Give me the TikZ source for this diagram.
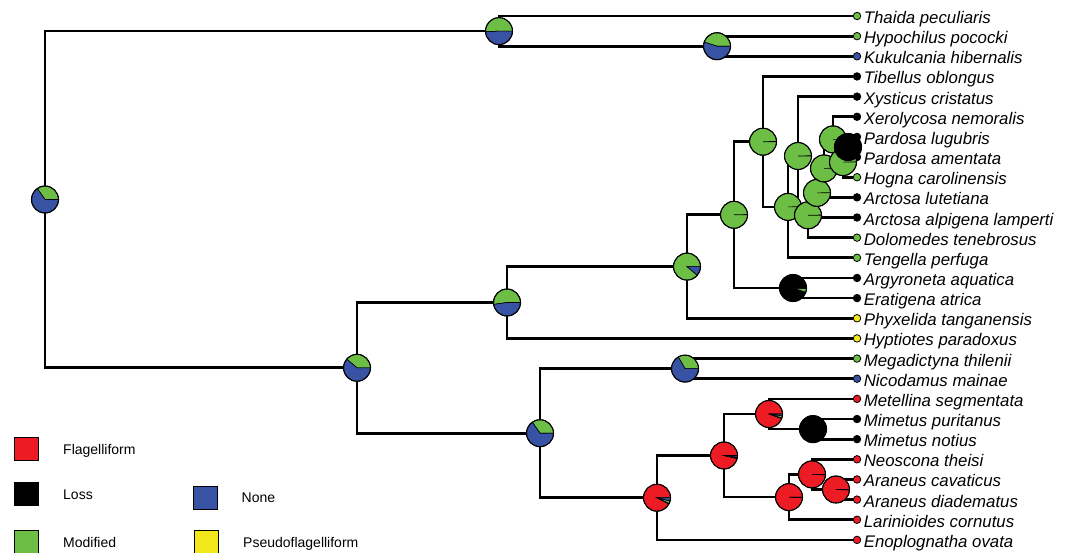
\documentclass[tikz,border=0pt]{standalone}
\usepackage{fontspec}
\setmainfont{Liberation Sans}
\usetikzlibrary{positioning}
\definecolor{stateflag}{RGB}{237,28,36}
\definecolor{stateloss}{RGB}{0,0,0}
\definecolor{statemod}{RGB}{108,190,69}
\definecolor{statenone}{RGB}{57,83,164}
\definecolor{statepseudo}{RGB}{242,232,26}
\newcommand{\pierad}{13.5pt}
\newcommand{\drawpie}[2]{%
  \foreach \pcol/\pend [remember=\pend as \pbeg (initially 0)] in {#2}{%
    \filldraw[fill=\pcol, draw=black, line width=0.6pt] (#1) -- ++(\pbeg:\pierad)
      arc[start angle=\pbeg, end angle=\pend, radius=\pierad] -- cycle;
  }%
  \draw[line width=1.1pt] (#1) circle[radius=\pierad];
}

\begin{document}
\begin{tikzpicture}[
	x=1pt, y=-1pt,
	treeline/.style = {draw=black, line width=2.7pt},
	tipdot/.style = {circle, draw=black, line width=0.8pt, minimum size=7.5pt, inner sep=0pt},
	tiplabel/.style = {font=\fontsize{16.8}{18}\selectfont\itshape, inner sep=0pt, text height=15pt, text depth=0pt, label distance=2.5pt},
	legendbox/.style = {draw=black, line width=1pt, minimum width=24pt, minimum height=23pt, inner sep=0pt},
	legendtext/.style = {font=\fontsize{14}{16}\selectfont, anchor=west, inner sep=0pt, text height=10pt, text depth=0pt}
]
	\useasboundingbox (0,0) rectangle (1073,552);

	% tips
	\node[tipdot, fill=statemod, label={[tiplabel]right:Thaida peculiaris}] (thaida) at (857,16.0) {};
	\node[tipdot, fill=statemod, label={[tiplabel]right:Hypochilus pococki}] (hypochilus) at (857,36.15) {};
	\node[tipdot, fill=statenone, label={[tiplabel]right:Kukulcania hibernalis}] (kukulcania) at (857,56.3) {};
	\node[tipdot, fill=stateloss, label={[tiplabel]right:Tibellus oblongus}] (tibellus) at (857,76.45) {};
	\node[tipdot, fill=stateloss, label={[tiplabel]right:Xysticus cristatus}] (xysticus) at (857,96.6) {};
	\node[tipdot, fill=stateloss, label={[tiplabel]right:Xerolycosa nemoralis}] (xerolycosa) at (857,116.75) {};
	\node[tipdot, fill=stateloss, label={[tiplabel]right:Pardosa lugubris}] (lugubris) at (857,136.9) {};
	\node[tipdot, fill=stateloss, label={[tiplabel]right:Pardosa amentata}] (amentata) at (857,157.05) {};
	\node[tipdot, fill=statemod, label={[tiplabel]right:Hogna carolinensis}] (hogna) at (857,177.2) {};
	\node[tipdot, fill=stateloss, label={[tiplabel]right:Arctosa lutetiana}] (lutetiana) at (857,197.35) {};
	\node[tipdot, fill=stateloss, label={[tiplabel]right:Arctosa alpigena lamperti}] (alpigena) at (857,217.5) {};
	\node[tipdot, fill=statemod, label={[tiplabel]right:Dolomedes tenebrosus}] (dolomedes) at (857,237.65) {};
	\node[tipdot, fill=statemod, label={[tiplabel]right:Tengella perfuga}] (tengella) at (857,257.8) {};
	\node[tipdot, fill=stateloss, label={[tiplabel]right:Argyroneta aquatica}] (argyroneta) at (857,277.95) {};
	\node[tipdot, fill=stateloss, label={[tiplabel]right:Eratigena atrica}] (eratigena) at (857,298.1) {};
	\node[tipdot, fill=statepseudo, label={[tiplabel]right:Phyxelida tanganensis}] (phyxelida) at (857,318.25) {};
	\node[tipdot, fill=statepseudo, label={[tiplabel]right:Hyptiotes paradoxus}] (hyptiotes) at (857,338.4) {};
	\node[tipdot, fill=statemod, label={[tiplabel]right:Megadictyna thilenii}] (megadictyna) at (857,358.55) {};
	\node[tipdot, fill=statenone, label={[tiplabel]right:Nicodamus mainae}] (nicodamus) at (857,378.7) {};
	\node[tipdot, fill=stateflag, label={[tiplabel]right:Metellina segmentata}] (metellina) at (857,398.85) {};
	\node[tipdot, fill=stateloss, label={[tiplabel]right:Mimetus puritanus}] (puritanus) at (857,419.0) {};
	\node[tipdot, fill=stateloss, label={[tiplabel]right:Mimetus notius}] (notius) at (857,439.15) {};
	\node[tipdot, fill=stateflag, label={[tiplabel]right:Neoscona theisi}] (neoscona) at (857,459.3) {};
	\node[tipdot, fill=stateflag, label={[tiplabel]right:Araneus cavaticus}] (cavaticus) at (857,479.45) {};
	\node[tipdot, fill=stateflag, label={[tiplabel]right:Araneus diadematus}] (diadematus) at (857,499.6) {};
	\node[tipdot, fill=stateflag, label={[tiplabel]right:Larinioides cornutus}] (larinioides) at (857,519.75) {};
	\node[tipdot, fill=stateflag, label={[tiplabel]right:Enoplognatha ovata}] (enoplognatha) at (857,539.9) {};

	% internal nodes
	\coordinate (root) at (45,199.5);
	\coordinate (paleo) at (499,31.1);
	\coordinate (hypkuk) at (717,46.2);
	\coordinate (entel) at (357,367.8);
	\coordinate (rtaout) at (507,302.5);
	\coordinate (rtamid) at (687,266.6);
	\coordinate (rtain) at (734,214.8);
	\coordinate (dionycha) at (763,141.7);
	\coordinate (argera) at (793,288.0);
	\coordinate (lycoa) at (788,206.9);
	\coordinate (lycob) at (798,156.0);
	\coordinate (lycoc) at (808,215.3);
	\coordinate (lycod) at (817,192.9);
	\coordinate (lycoe) at (824,168.4);
	\coordinate (lycof) at (833,139.4);
	\coordinate (lycog) at (843,162.1);
	\coordinate (pardosa) at (848,147.0);
	\coordinate (araneoid) at (540,433.2);
	\coordinate (nicod) at (685,368.6);
	\coordinate (orbq) at (657,497.7);
	\coordinate (orbr) at (724,455.5);
	\coordinate (metamim) at (769,414.0);
	\coordinate (mimetus) at (813,429.1);
	\coordinate (aranei) at (789,497.1);
	\coordinate (neoara) at (812,474.4);
	\coordinate (araneus) at (836,489.5);

	% branches
	\draw[treeline] (root) |- (paleo) (root) |- (entel);
	\draw[treeline] (paleo) |- (thaida) (paleo) |- (hypkuk);
	\draw[treeline] (hypkuk) |- (hypochilus) (hypkuk) |- (kukulcania);
	\draw[treeline] (entel) |- (rtaout) (entel) |- (araneoid);
	\draw[treeline] (rtaout) |- (rtamid) (rtaout) |- (hyptiotes);
	\draw[treeline] (rtamid) |- (rtain) (rtamid) |- (phyxelida);
	\draw[treeline] (rtain) |- (dionycha) (rtain) |- (argera);
	\draw[treeline] (dionycha) |- (tibellus) (dionycha) |- (lycoa);
	\draw[treeline] (lycoa) |- (lycob) (lycoa) |- (tengella);
	\draw[treeline] (lycob) |- (xysticus) (lycob) |- (lycoc);
	\draw[treeline] (lycoc) |- (lycod) (lycoc) |- (dolomedes);
	\draw[treeline] (lycod) |- (lycoe) (lycod) |- (alpigena);
	\draw[treeline] (lycoe) |- (lycof) (lycoe) |- (lutetiana);
	\draw[treeline] (lycof) |- (xerolycosa) (lycof) |- (lycog);
	\draw[treeline] (lycog) |- (pardosa) (lycog) |- (hogna);
	\draw[treeline] (pardosa) |- (lugubris) (pardosa) |- (amentata);
	\draw[treeline] (argera) |- (argyroneta) (argera) |- (eratigena);
	\draw[treeline] (araneoid) |- (nicod) (araneoid) |- (orbq);
	\draw[treeline] (nicod) |- (megadictyna) (nicod) |- (nicodamus);
	\draw[treeline] (orbq) |- (orbr) (orbq) |- (enoplognatha);
	\draw[treeline] (orbr) |- (metamim) (orbr) |- (aranei);
	\draw[treeline] (metamim) |- (metellina) (metamim) |- (mimetus);
	\draw[treeline] (mimetus) |- (puritanus) (mimetus) |- (notius);
	\draw[treeline] (aranei) |- (neoara) (aranei) |- (larinioides);
	\draw[treeline] (neoara) |- (neoscona) (neoara) |- (araneus);
	\draw[treeline] (araneus) |- (cavaticus) (araneus) |- (diadematus);

	% ancestral states
	\drawpie{root}{statemod/125,statenone/360}
	\drawpie{paleo}{statemod/183,statenone/360}
	\drawpie{hypkuk}{statemod/162,statenone/360}
	\drawpie{entel}{statemod/140,statenone/360}
	\drawpie{rtaout}{statemod/188,statenone/360}
	\drawpie{rtamid}{statemod/320,statenone/360}
	\drawpie{rtain}{stateloss/1.5,statemod/360}
	\drawpie{dionycha}{stateloss/1.5,statemod/360}
	\drawpie{lycoa}{stateloss/1.5,statemod/360}
	\drawpie{lycob}{stateloss/1.5,statemod/360}
	\drawpie{lycoc}{stateloss/1.5,statemod/360}
	\drawpie{lycod}{stateloss/1.5,statemod/360}
	\drawpie{lycoe}{stateloss/1.5,statemod/360}
	\drawpie{lycof}{stateloss/1.5,statemod/360}
	\drawpie{lycog}{stateloss/1.5,statemod/360}
	\drawpie{pardosa}{stateloss/360}
	\drawpie{argera}{stateloss/342,statemod/357,statenone/360}
	\drawpie{araneoid}{statemod/125,statenone/360}
	\drawpie{nicod}{statemod/120,statenone/360}
	\drawpie{orbq}{stateflag/332,stateloss/335,statemod/346,statenone/360}
	\drawpie{orbr}{stateflag/347,stateloss/352,statemod/353,statenone/360}
	\drawpie{metamim}{stateflag/340,stateloss/343,statemod/352,statenone/360}
	\drawpie{mimetus}{stateflag/4,stateloss/360}
	\drawpie{aranei}{stateflag/358,stateloss/360}
	\drawpie{neoara}{stateflag/358,stateloss/360}
	\drawpie{araneus}{stateflag/358,stateloss/360}

	% legend
	\node[legendbox, fill=stateflag] (keyflag) at (26.5,449) {};
	\node[legendtext, right=24pt of keyflag] (txtflag) {Flagelliform};
	\node[legendbox, fill=stateloss] (keyloss) at (26.5,494) {};
	\node[legendtext, right=24pt of keyloss] (txtloss) {Loss};
	\node[legendbox, fill=statemod] (keymod) at (26.5,542) {};
	\node[legendtext, right=24pt of keymod] (txtmod) {Modified};
	\node[legendbox, fill=statenone] (keynone) at (205,497.5) {};
	\node[legendtext, right=24pt of keynone] (txtnone) {None};
	\node[legendbox, fill=statepseudo] (keypseudo) at (206.5,542) {};
	\node[legendtext, right=24pt of keypseudo] (txtpseudo) {Pseudoflagelliform};
\end{tikzpicture}
\end{document}
